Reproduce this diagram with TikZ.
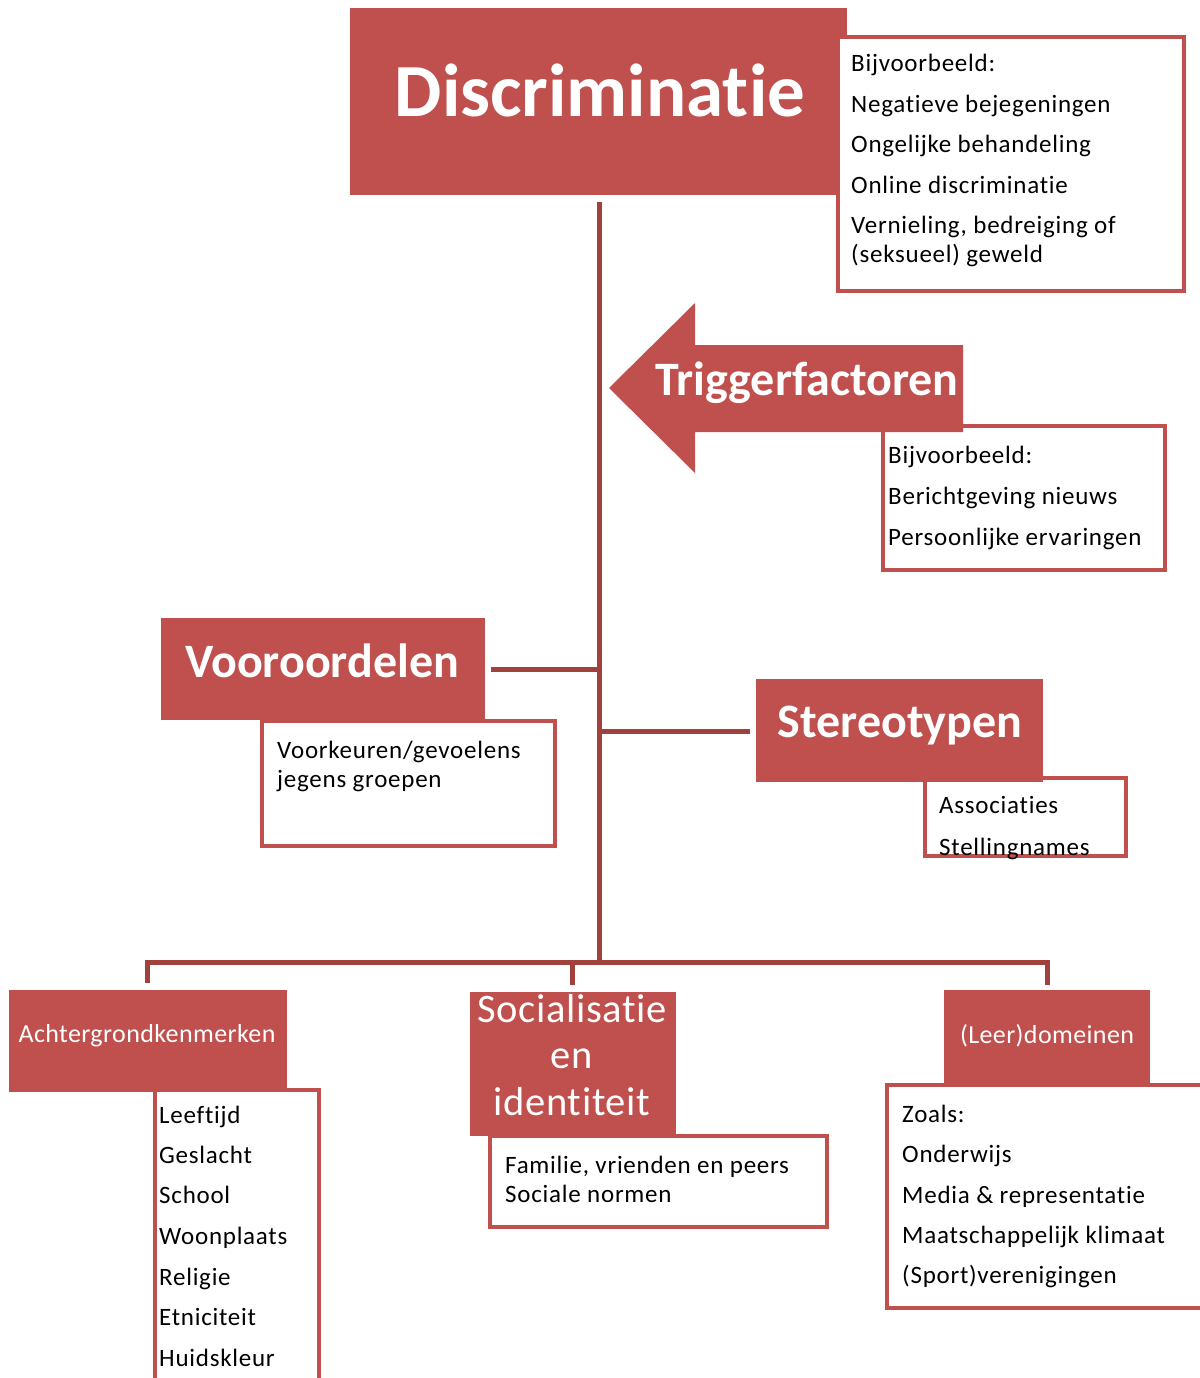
\documentclass[tikz,border=0pt]{standalone}
\usepackage{fontspec}
\setmainfont{Carlito}[Ligatures=NoCommon]
\newfontfamily\bodyfont{Carlito}[Ligatures=NoCommon, LetterSpace=3]
\newfontfamily\headfont{Carlito}[Ligatures=NoCommon, LetterSpace=1.5]
\definecolor{accent}{HTML}{C0504D}
\definecolor{connc}{HTML}{A0413E}
\begin{document}
\begin{tikzpicture}[x=1pt,y=-1pt,
  redbox/.style={fill=accent, draw=none, inner sep=0pt, outer sep=0pt, anchor=north west},
  wbox/.style={fill=white, draw=accent, line width=4pt, inner sep=0pt, outer sep=0pt, anchor=north west},
  txt/.style={anchor=base west, inner sep=0pt, font=\bodyfont\fontsize{25}{30}\selectfont},
  bighead/.style={anchor=base, inner sep=0pt, text=white, font=\bfseries\fontsize{48}{57}\selectfont},
  smallhead/.style={anchor=base, inner sep=0pt, text=white, font=\headfont\fontsize{26}{31}\selectfont},
  sochead/.style={anchor=base, inner sep=0pt, text=white, font=\headfont\fontsize{40.5}{48}\selectfont},
  connector/.style={draw=connc, line width=5pt}]
\useasboundingbox (0,0) rectangle (1199,1378);
\fill[white] (0,0) rectangle (1199,1378);

% trunk and connectors
\coordinate (trunktop) at (599,202);
\coordinate (trunkbot) at (599,962);
\coordinate (busL) at (147,962);
\coordinate (busR) at (1047,962);
\coordinate (busM) at (572,962);
\coordinate (voorJ) at (599,669);
\coordinate (stereoJ) at (599,731);

% Discriminatie
\node[redbox, minimum width=497pt, minimum height=187pt] (disc) at (350,8) {};
\node[anchor=base, inner sep=0pt, text=white, font=\bfseries\fontsize{75}{90}\selectfont] (disct) at (600,117) {Discriminatie};
\node[wbox, minimum width=346pt, minimum height=254pt] (ex1) at (838,37) {};
\node[txt] (ex1a) at (851,72) {Bijvoorbeeld:};
\node[txt] (ex1b) at (851,113) {Negatieve bejegeningen};
\node[txt] (ex1c) at (851,153) {Ongelijke behandeling};
\node[txt] (ex1d) at (851,193) {Online discriminatie};
\node[txt] (ex1e) at (851,233) {Vernieling, bedreiging of};
\node[txt] (ex1f) at (851,262) {(seksueel) geweld};

% trunk
\draw[connector] (trunktop) -- (trunkbot);

% Triggerfactoren
\node[wbox, minimum width=282pt, minimum height=144pt] (ex2) at (883,426) {};
\fill[accent] (609,388) -- (695,303) -- (695,345) -- (963,345) -- (963,432) -- (695,432) -- (695,473) -- cycle;
\node[bighead] (trig) at (807,395) {Triggerfactoren};
\node[txt] (ex2a) at (888,463) {Bijvoorbeeld:};
\node[txt] (ex2b) at (888,504) {Berichtgeving nieuws};
\node[txt] (ex2c) at (888,545) {Persoonlijke ervaringen};

% Vooroordelen
\node[wbox, minimum width=293pt, minimum height=125pt] (ex3) at (262,721) {};
\node[redbox, minimum width=324pt, minimum height=102pt] (voor) at (161,618) {};
\node[bighead] (voort) at (322,677) {Vooroordelen};
\node[txt] (ex3a) at (277,758) {Voorkeuren/gevoelens};
\node[txt] (ex3b) at (277,787) {jegens groepen};
\draw[connector] ([xshift=6pt]voor.east |- voorJ) -- (voorJ);

% Stereotypen
\node[wbox, minimum width=201pt, minimum height=78pt] (ex4) at (925,778) {};
\node[redbox, minimum width=287pt, minimum height=103pt] (stereo) at (756,679) {};
\node[bighead] (stereot) at (900,737) {Stereotypen};
\node[txt] (ex4a) at (939,813) {Associaties};
\node[txt] (ex4b) at (939,855) {Stellingnames};
\draw[connector] (stereoJ) -- ([xshift=-6pt]stereo.west |- stereoJ);

% Achtergrondkenmerken
\node[wbox, minimum width=164pt, minimum height=320pt] (ex5) at (155,1090) {};
\node[redbox, minimum width=278pt, minimum height=102pt] (acht) at (9,990) {};
\node[smallhead] (achtt) at (147,1042) {Achtergrondkenmerken};
\node[txt] (ex5a) at (159,1123) {Leeftijd};
\node[txt] (ex5b) at (159,1163) {Geslacht};
\node[txt] (ex5c) at (159,1203) {School};
\node[txt] (ex5d) at (159,1244) {Woonplaats};
\node[txt] (ex5e) at (159,1285) {Religie};
\node[txt] (ex5f) at (159,1325) {Etniciteit};
\node[txt] (ex5g) at (159,1366) {Huidskleur};

% Socialisatie
\node[wbox, minimum width=337pt, minimum height=91pt] (ex6) at (490,1136) {};
\node[redbox, minimum width=206pt, minimum height=144pt] (soc) at (470,992) {};
\node[sochead] (soct1) at (572,1022) {Socialisatie};
\node[sochead] (soct2) at (572,1068) {en};
\node[sochead] (soct3) at (572,1115) {identiteit};
\node[txt] (ex6a) at (505,1173) {Familie, vrienden en peers};
\node[txt] (ex6b) at (505,1202) {Sociale normen};

% (Leer)domeinen
\node[wbox, minimum width=330pt, minimum height=223pt] (ex7) at (887,1085) {};
\node[redbox, minimum width=206pt, minimum height=95pt] (leer) at (944,990) {};
\node[smallhead] (leert) at (1047,1043) {(Leer)domeinen};
\node[txt] (ex7a) at (902,1122) {Zoals:};
\node[txt] (ex7b) at (902,1162) {Onderwijs};
\node[txt] (ex7c) at (902,1203) {Media \& representatie};
\node[txt] (ex7d) at (902,1243) {Maatschappelijk klimaat};
\node[txt] (ex7e) at (902,1283) {(Sport)verenigingen};

% bus
\draw[connector] ([yshift=7pt]acht.north -| busL) -- (busL) -- (busR) -- ([yshift=5pt]leer.north -| busR);
\draw[connector] (busM) -- ([yshift=7pt]soc.north -| busM);
\end{tikzpicture}
\end{document}
